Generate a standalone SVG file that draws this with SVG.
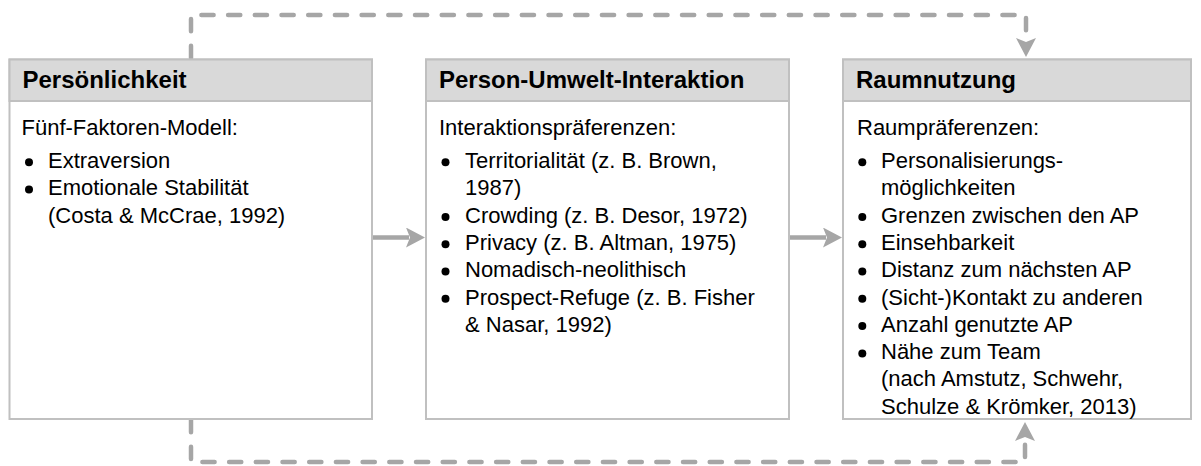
<svg xmlns="http://www.w3.org/2000/svg" width="1201" height="466" viewBox="0 0 1201 466">
<style>
.box{fill:#ffffff;stroke:#c0c0c0;stroke-width:2}
.hdr{fill:#d9d9d9;stroke:#c0c0c0;stroke-width:2}
.ht{font-family:"Liberation Sans",Arial,sans-serif;font-weight:bold;font-size:24px;fill:#000}
.bt{font-family:"Liberation Sans",Arial,sans-serif;font-size:22px;fill:#000}
.solid{fill:none;stroke:#a6a6a6;stroke-width:4.5}
.dash{fill:none;stroke:#a6a6a6;stroke-width:4.5;stroke-linecap:round;stroke-dasharray:12.2 14.5}
</style>
<defs>
<marker id="ah" viewBox="0 0 19 20" refX="3" refY="10" markerWidth="19" markerHeight="20" markerUnits="userSpaceOnUse" orient="auto">
<path d="M0,0 L19,10 L0,20 L4,10 z" fill="#a6a6a6"/>
</marker>
<circle id="dot" r="4"/>
</defs>
<g id="connectors">
<path class="solid" d="M371,237.5 H409" marker-end="url(#ah)"/>
<path class="solid" d="M789,237.5 H826" marker-end="url(#ah)"/>
<path class="dash" d="M191,58 V15 H1026 V41" marker-end="url(#ah)"/>
<path class="dash" d="M191,420 V462 H1025 V438" marker-end="url(#ah)"/>
</g>
<g id="node-persoenlichkeit">
<rect class="box" x="9.5" y="59.5" width="362.5" height="359.5"/>
<rect class="hdr" x="9.5" y="59.5" width="362.5" height="41.5"/>
<text class="ht" x="22.5" y="88.3">Persönlichkeit</text>
<text class="bt" x="21.5" y="135">Fünf-Faktoren-Modell:</text>
<use href="#dot" x="29" y="162.3"/>
<use href="#dot" x="29" y="189.6"/>
<text class="bt" x="48" y="168">Extraversion</text>
<text class="bt" x="48" y="195.3">Emotionale Stabilität</text>
<text class="bt" x="48" y="222.6">(Costa &amp; McCrae, 1992)</text>
</g>
<g id="node-person-umwelt">
<rect class="box" x="426" y="59.5" width="363" height="359.5"/>
<rect class="hdr" x="426" y="59.5" width="363" height="41.5"/>
<text class="ht" x="439" y="88.3">Person-Umwelt-Interaktion</text>
<text class="bt" x="439" y="135">Interaktionspräferenzen:</text>
<use href="#dot" x="445.5" y="162.3"/>
<use href="#dot" x="445.5" y="216.9"/>
<use href="#dot" x="445.5" y="244.2"/>
<use href="#dot" x="445.5" y="271.5"/>
<use href="#dot" x="445.5" y="298.8"/>
<text class="bt" x="465" y="168">Territorialität (z. B. Brown,</text>
<text class="bt" x="465" y="195.3">1987)</text>
<text class="bt" x="465" y="222.6">Crowding (z. B. Desor, 1972)</text>
<text class="bt" x="465" y="249.9">Privacy (z. B. Altman, 1975)</text>
<text class="bt" x="465" y="277.2">Nomadisch-neolithisch</text>
<text class="bt" x="465" y="304.5">Prospect-Refuge (z. B. Fisher</text>
<text class="bt" x="465" y="331.8">&amp; Nasar, 1992)</text>
</g>
<g id="node-raumnutzung">
<rect class="box" x="843" y="59.5" width="348" height="359.5"/>
<rect class="hdr" x="843" y="59.5" width="348" height="41.5"/>
<text class="ht" x="856" y="88.3">Raumnutzung</text>
<text class="bt" x="857" y="135">Raumpräferenzen:</text>
<use href="#dot" x="862.3" y="162.3"/>
<use href="#dot" x="862.3" y="216.9"/>
<use href="#dot" x="862.3" y="244.2"/>
<use href="#dot" x="862.3" y="271.5"/>
<use href="#dot" x="862.3" y="298.8"/>
<use href="#dot" x="862.3" y="326.1"/>
<use href="#dot" x="862.3" y="353.4"/>
<text class="bt" x="881" y="168">Personalisierungs-</text>
<text class="bt" x="881" y="195.3">möglichkeiten</text>
<text class="bt" x="881" y="222.6">Grenzen zwischen den AP</text>
<text class="bt" x="881" y="249.9">Einsehbarkeit</text>
<text class="bt" x="881" y="277.2">Distanz zum nächsten AP</text>
<text class="bt" x="881" y="304.5">(Sicht-)Kontakt zu anderen</text>
<text class="bt" x="881" y="331.8">Anzahl genutzte AP</text>
<text class="bt" x="881" y="359.1">Nähe zum Team</text>
<text class="bt" x="881" y="386.4">(nach Amstutz, Schwehr,</text>
<text class="bt" x="881" y="413.7">Schulze &amp; Krömker, 2013)</text>
</g>
</svg>
